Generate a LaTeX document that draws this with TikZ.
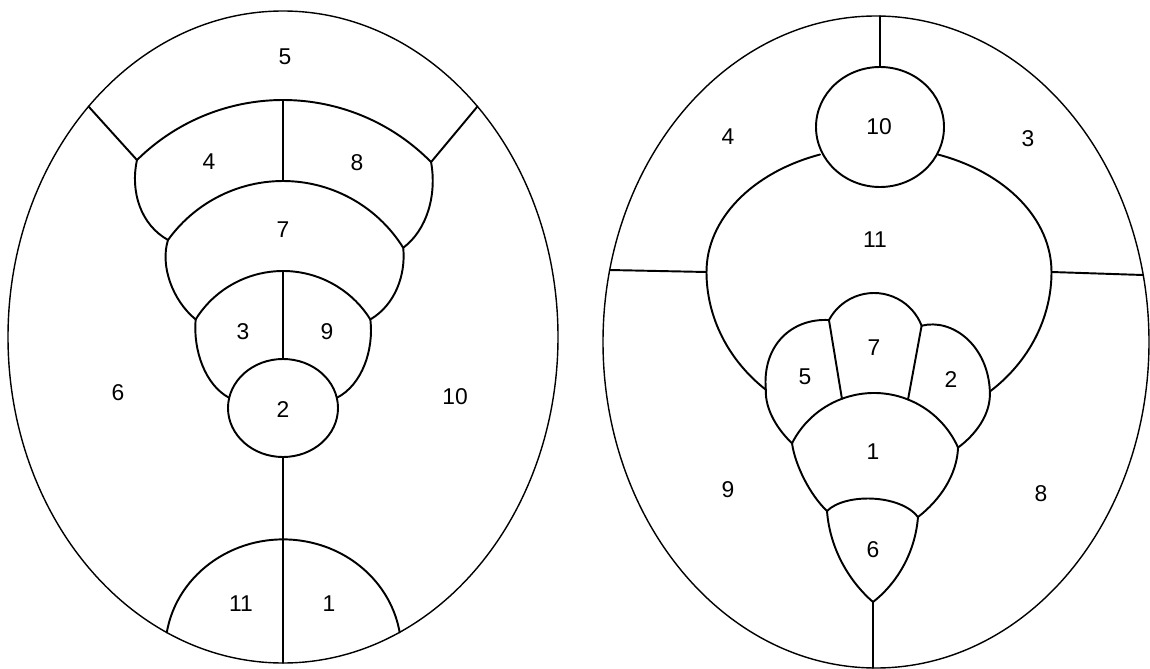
\documentclass[tikz,border=0pt]{standalone}
\usepackage{fontspec}
\setmainfont{Liberation Sans}
\usetikzlibrary{calc}
\tikzset{
  borde/.style={
    line width=.8pt
  },
  pared/.style={
    line width=1.1pt,
    line join=round,
    line cap=round
  },
  num/.style={
    inner sep=0pt,
    font=\fontsize{13}{15}\selectfont
  }
}

\begin{document}
\begin{tikzpicture}[x=.02cm,y=-.02cm]
\useasboundingbox (0,0) rectangle (1150,669);

% izquierda
\coordinate (L) at (283,337);
\coordinate (k48) at (283,307.6);
\coordinate (k7) at (283,322.6);
\coordinate (k39) at (283,374);
\coordinate (c2) at (283,408);
\draw[borde] (L) ellipse (275 and 326);
\coordinate (a1) at ($(L)+(225:275 and 326)$);
\coordinate (a2) at ($(L)+(-45:275 and 326)$);
\coordinate (b0) at ($(L)+(90:275 and 326)$);
\coordinate (c11) at ($(L)+(115:275 and 326)$);
\coordinate (p4) at ($(k48)+(-134.7:207.6)$);
\coordinate (p8) at ($(k48)+(-44.5:207.6)$);
\coordinate (t48) at ($(k48)+(-90:207.6)$);
\coordinate (q4) at ($(k7)+(-144.3:141.6)$);
\coordinate (q8) at ($(k7)+(-31.9:141.6)$);
\coordinate (m7) at ($(k7)+(-90:141.6)$);
\coordinate (r3) at ($(k39)+(-148:103)$);
\coordinate (r9) at ($(k39)+(-32:103)$);
\coordinate (t39) at ($(k39)+(-90:103)$);
\coordinate (s3) at ($(c2)+(192:55 and 49)$);
\coordinate (s9) at ($(c2)+(-12:55 and 49)$);
\coordinate (o2) at ($(c2)+(-90:55 and 49)$);
\coordinate (u2) at ($(c2)+(90:55 and 49)$);

\draw[pared] (a1) -- (p4) (a2) -- (p8);
\draw[pared] (p4) arc[start angle=-134.7, end angle=-44.5, radius=207.6];
\draw[pared] (q4) arc[start angle=-144.3, end angle=-31.9, radius=141.6];
\draw[pared] (r3) arc[start angle=-148, end angle=-32, radius=103];
\draw[pared] (p4) .. controls (130,192) and (141,225) .. (q4);
\draw[pared] (p8) .. controls (437,195) and (427,230) .. (q8);
\draw[pared] (q4) .. controls (160,265) and (172,300) .. (r3);
\draw[pared] (q8) .. controls (406,275) and (395,305) .. (r9);
\draw[pared] (r3) .. controls (193,350) and (205,385) .. (s3);
\draw[pared] (r9) .. controls (374,350) and (362,385) .. (s9);
\draw[pared] (c2) ellipse (55 and 49);
\draw[pared] (t48) -- (m7) (t39) -- (o2) (u2) -- (b0);
\draw[pared] (c11) arc[start angle=189.3, end angle=350.7, x radius=118, y radius=111];

\node[num] (l5) at (285,57) {5};
\node[num] (l4) at (209,162) {4};
\node[num] (l8) at (357,163) {8};
\node[num] (l7) at (283,230) {7};
\node[num] (l3) at (243,332) {3};
\node[num] (l9) at (327,332) {9};
\node[num] (l6) at (118,393) {6};
\node[num] (l2) at (283,410) {2};
\node[num] (l10) at (455,397) {10};
\node[num] (l11) at (241,604) {11};
\node[num] (l1) at (329,604) {1};

% derecha
\coordinate (R) at (876,342);
\coordinate (c10) at (880,127);
\coordinate (k11) at (879,272);
\coordinate (k7r) at (874,344);
\coordinate (k1c) at (874,485);
\draw[borde] (R) ellipse (273 and 326);
\coordinate (e0) at (880,16);
\coordinate (o10) at ($(c10)+(-90:64 and 60)$);
\coordinate (j10l) at ($(k11)+(250:172.5 and 125)$);
\coordinate (j10r) at ($(k11)+(-70:172.5 and 125)$);
\coordinate (h1) at ($(R)+(192.76:273 and 326)$);
\coordinate (h2) at ($(R)+(-11.86:273 and 326)$);
\coordinate (k1) at ($(k11)+(180:172.5 and 125)$);
\coordinate (k2) at ($(k11)+(0:172.5 and 125)$);
\coordinate (j5) at ($(k11)+(131:172.5 and 156)$);
\coordinate (j2) at ($(k11)+(50:172.5 and 156)$);
\coordinate (j57) at ($(k7r)+(208:51)$);
\coordinate (j72) at ($(k7r)+(-21:51)$);
\coordinate (j15) at ($(k1c)+(207:92)$);
\coordinate (j12) at ($(k1c)+(-24:92)$);
\coordinate (g5) at ($(k1c)+(249.6:92)$);
\coordinate (g2) at ($(k1c)+(-68.3:92)$);
\coordinate (j16) at (827,511);
\coordinate (j61) at (918,517);
\coordinate (v6) at (873,602);
\coordinate (f0) at (873,668);

\draw[pared] (h1) -- (k1) (k2) -- (h2);
\draw[pared] (j10l) arc[start angle=250, end angle=180, x radius=172.5, y radius=125]
  arc[start angle=180, end angle=131, x radius=172.5, y radius=156];
\draw[pared] (j10r) arc[start angle=-70, end angle=0, x radius=172.5, y radius=125]
  arc[start angle=0, end angle=50, x radius=172.5, y radius=156];
\draw[pared] (c10) ellipse (64 and 60);
\draw[pared] (e0) -- (o10);
\draw[pared] (j5) .. controls (762,345) and (792,318) .. (j57);
\draw[pared] (j5) .. controls (765,410) and (778,430) .. (j15);
\draw[pared] (j57) arc[start angle=208, end angle=339, radius=51];
\draw[pared] (j72) .. controls (952,318) and (988,345) .. (j2)
  .. controls (991,415) and (975,435) .. (j12);
\draw[pared] (j57) -- (g5) (j72) -- (g2);
\draw[pared] (j15) arc[start angle=207, end angle=336, radius=92];
\draw[pared] (j15) .. controls (795,465) and (810,495) .. (j16);
\draw[pared] (j12) .. controls (957,475) and (940,500) .. (j61);
\draw[pared] (j16) .. controls (845,493) and (900,494) .. (j61);
\draw[pared] (j16) .. controls (830,550) and (850,582) .. (v6);
\draw[pared] (j61) .. controls (915,555) and (895,585) .. (v6);
\draw[pared] (v6) -- (f0);

\node[num] (r4) at (728,137) {4};
\node[num] (r10) at (879,127) {10};
\node[num] (r3) at (1028,139) {3};
\node[num] (r11) at (875,240) {11};
\node[num] (r7) at (874,348) {7};
\node[num] (r5) at (805,377) {5};
\node[num] (r2) at (951,380) {2};
\node[num] (r1) at (873,452) {1};
\node[num] (r9) at (728,490) {9};
\node[num] (r8) at (1041,494) {8};
\node[num] (r6) at (873,550) {6};
\end{tikzpicture}
\end{document}
